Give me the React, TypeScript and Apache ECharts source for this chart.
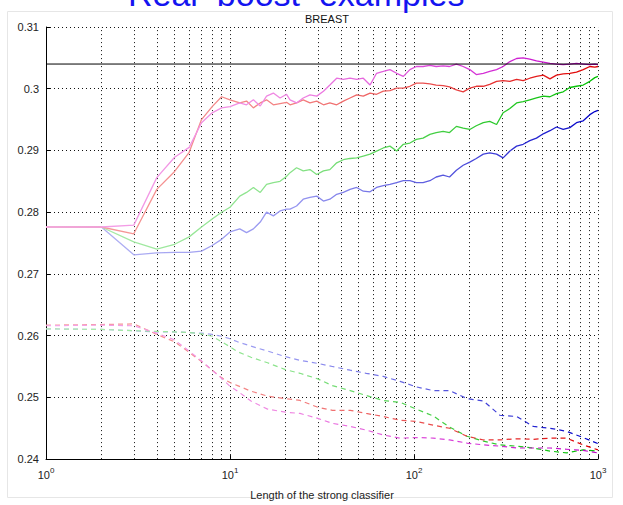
import React, { useEffect, useRef } from "react";
import * as echarts from "echarts";

// x positions (classifier length) for the upper solid curves
const solidX = [1, 2, 3, 4, 5, 6, 7, 8, 9, 10, 11.3, 12.3, 13.4, 14.6, 15.8, 17.2, 18.7, 20.3, 21.2, 23, 25, 27.2, 29.6, 32.2, 34.9, 38, 41.3, 44.9, 48.8, 53, 57.7, 62.6, 68.1, 74, 80.5, 87.5, 95, 103, 112, 122, 132, 144, 156, 170, 185, 201, 218, 238, 258, 281, 305, 332, 361, 392, 426, 463, 504, 548, 595, 647, 703, 764, 831, 903, 961, 1000];

const magentaSolid = [
  0.2776, 0.2776, 0.2779, 0.2856, 0.2889, 0.2905, 0.2945, 0.2961, 0.2969, 0.2971,
  0.2977, 0.2974, 0.2982, 0.2972, 0.2988, 0.2993, 0.2985, 0.2991, 0.2982, 0.2977,
  0.2985, 0.299, 0.2988, 0.2996, 0.3006, 0.3017, 0.3015, 0.3017, 0.3015, 0.3017,
  0.3006, 0.3025, 0.3028, 0.3031, 0.3025, 0.302, 0.3031, 0.3036, 0.3036, 0.3038,
  0.3036, 0.3037, 0.3036, 0.304, 0.3036, 0.3031, 0.3023, 0.3025, 0.3028, 0.3031,
  0.3036, 0.3044, 0.3049, 0.305, 0.3048, 0.3045, 0.3043, 0.3041, 0.304, 0.3039,
  0.304, 0.3041, 0.304, 0.3039, 0.304, 0.3039,
];
const redSolid = [
  0.2776, 0.2776, 0.2765, 0.2837, 0.2866, 0.2897, 0.295, 0.2971, 0.2987, 0.2982,
  0.2977, 0.298, 0.2969, 0.2977, 0.2982, 0.2974, 0.2976, 0.2978, 0.2974, 0.2977,
  0.2982, 0.2977, 0.298, 0.2974, 0.2977, 0.2974, 0.298, 0.2985, 0.299, 0.2988,
  0.2993, 0.2991, 0.2996, 0.2997, 0.3001, 0.3001, 0.3004, 0.3009, 0.3009, 0.3008,
  0.3006, 0.3005, 0.3003, 0.2998, 0.2995, 0.3001, 0.3004, 0.3004, 0.3007, 0.3012,
  0.3013, 0.3012, 0.3015, 0.3013, 0.3017, 0.302, 0.3022, 0.3016, 0.3022, 0.3024,
  0.3025, 0.3027, 0.3031, 0.3036, 0.3035, 0.3036,
];
const greenSolid = [
  0.2776, 0.2776, 0.2752, 0.274, 0.2748, 0.276, 0.2776, 0.2789, 0.28, 0.2808,
  0.2826, 0.2832, 0.284, 0.2832, 0.2845, 0.2848, 0.285, 0.2858, 0.2864, 0.2872,
  0.2867, 0.2869, 0.2861, 0.2867, 0.2869, 0.288, 0.2885, 0.2887, 0.2888, 0.2891,
  0.2894, 0.2899, 0.2904, 0.2907, 0.2899, 0.291, 0.2912, 0.2918, 0.292, 0.2926,
  0.2929, 0.2931, 0.2929, 0.2939, 0.2936, 0.2934, 0.294, 0.2945, 0.2947, 0.2942,
  0.2961, 0.2968, 0.2977, 0.2979, 0.2982, 0.2985, 0.2988, 0.2987, 0.2992, 0.2995,
  0.3002, 0.3004, 0.3006, 0.3012, 0.3018, 0.302,
];
const blueSolid = [
  0.2776, 0.2776, 0.2731, 0.2734, 0.2735, 0.2735, 0.2737, 0.2746, 0.2756, 0.2768,
  0.2773, 0.2767, 0.2773, 0.2784, 0.28, 0.2794, 0.2802, 0.2805, 0.2805, 0.281,
  0.2821, 0.2824, 0.2826, 0.2818, 0.2821, 0.2829, 0.2832, 0.2837, 0.284, 0.2834,
  0.2833, 0.284, 0.2843, 0.2845, 0.2848, 0.2851, 0.2851, 0.2848, 0.2848, 0.2851,
  0.2857, 0.286, 0.2857, 0.2868, 0.2876, 0.2881, 0.2887, 0.2894, 0.2896, 0.2894,
  0.2888, 0.2899, 0.2907, 0.291, 0.2916, 0.292, 0.2927, 0.2932, 0.2938, 0.2934,
  0.2937, 0.2945, 0.2948, 0.2958, 0.2963, 0.2965,
];

// x positions for the lower dashed curves
const dashedX = [1, 2, 3, 4, 5, 6, 7, 8, 9, 10, 11, 13, 16, 20, 24, 30, 36, 45, 55, 68, 84, 103, 127, 156, 194, 239, 293, 361, 445, 548, 675, 830, 1000];

const blueDashed = [
  0.2611, 0.261, 0.2608, 0.2606, 0.2606, 0.2605, 0.2604, 0.2602, 0.2599, 0.2595,
  0.259, 0.2583, 0.2575, 0.2566, 0.256, 0.2555, 0.255, 0.2544, 0.2539, 0.2534,
  0.2526, 0.2517, 0.2511, 0.2511, 0.2498, 0.2494, 0.2471, 0.2469, 0.2453, 0.245,
  0.2445, 0.2435, 0.2425,
];
const greenDashed = [
  0.2611, 0.261, 0.2608, 0.2607, 0.2606, 0.2605, 0.2603, 0.2599, 0.259, 0.2582,
  0.2574, 0.2565, 0.2556, 0.2545, 0.2539, 0.253, 0.2519, 0.2511, 0.2503, 0.2495,
  0.2492, 0.2481, 0.247, 0.2452, 0.2437, 0.2429, 0.2423, 0.2421, 0.2418, 0.2413,
  0.241, 0.2415, 0.2413,
];
const redDashed = [
  0.2617, 0.2618, 0.2619, 0.2602, 0.259, 0.2573, 0.2558, 0.2544, 0.2532, 0.2524,
  0.2519, 0.251, 0.2502, 0.2498, 0.2495, 0.2484, 0.2479, 0.2479, 0.2474, 0.2469,
  0.2463, 0.2461, 0.2455, 0.245, 0.2437, 0.2431, 0.2431, 0.2433, 0.2432, 0.2434,
  0.2434, 0.2423, 0.2415,
];
const magentaDashed = [
  0.2616, 0.2617, 0.2616, 0.2604, 0.2593, 0.2575, 0.2559, 0.2544, 0.2531, 0.2518,
  0.251, 0.2494, 0.2481, 0.2476, 0.2474, 0.2466, 0.2458, 0.2453, 0.2447, 0.2439,
  0.2434, 0.2435, 0.2434, 0.2431, 0.2426, 0.2423, 0.2421, 0.2418, 0.2418, 0.2418,
  0.2416, 0.2414, 0.241,
];

// horizontal reference level
const refX = [1, 1000];
const refY = [0.304, 0.304];

// vertical dotted grid positions on the log axis
const gridX = [2, 3, 4, 5, 6, 7, 8, 9, 10, 20, 30, 40, 50, 60, 70, 80, 90, 100, 200, 300, 400, 500, 600, 700, 800, 900, 1000];

const FONT = "'Liberation Sans', Arial, Helvetica, sans-serif";

const fade = (stops: string[]) =>
  new echarts.graphic.LinearGradient(0, 0, 1, 0, [
    { offset: 0, color: stops[0] },
    { offset: 0.45, color: stops[1] },
    { offset: 0.75, color: stops[2] },
    { offset: 1, color: stops[3] },
  ]);

const pair = (xs: number[], ys: number[]) => xs.map((x, i) => [x, ys[i]]);

export default function App() {
  const ref = useRef<HTMLDivElement>(null);

  useEffect(() => {
    if (!ref.current) return;
    const chart = echarts.init(ref.current, undefined, { renderer: "svg" });

    const magentaC = ["#f5a6e8", "#ef86e2", "#d83ad8", "#c000c8"];
    const redC = ["#f6a0a0", "#f38080", "#e84040", "#e00000"];
    const greenC = ["#b0edb0", "#88e288", "#38cc38", "#00c000"];
    const blueC = ["#b8b8f4", "#9696f0", "#5050dc", "#0000c8"];

    const solid = (name: string, ys: number[], c: string[]) => ({
      name,
      type: "line",
      data: pair(solidX, ys),
      showSymbol: false,
      z: 4,
      lineStyle: { width: 1.3, color: fade(c) },
    });
    const dashed = (name: string, ys: number[], c: string[]) => ({
      name,
      type: "line",
      data: pair(dashedX, ys),
      showSymbol: false,
      z: 3,
      lineStyle: { width: 1.2, type: [5, 4], color: fade(c) },
    });

    chart.setOption({
      animation: false,
      backgroundColor: "#ffffff",
      title: {
        text: "BREAST",
        left: 322,
        top: 8,
        textAlign: "center",
        textStyle: { fontFamily: FONT, fontSize: 11, fontWeight: "normal", color: "#111" },
      },
      graphic: [
        {
          type: "rect",
          silent: true,
          shape: { x: 7.5, y: 11.5, width: 605, height: 486 },
          style: { fill: "none", stroke: "#e6e6e6", lineWidth: 1 },
        },
        {
          type: "text",
          silent: true,
          x: 128,
          y: 11,
          style: {
            text: "Real  boost  examples",
            font: `34px ${FONT}`,
            fill: "#1414f0",
            verticalAlign: "bottom",
          },
        },
      ],
      grid: { left: 46, right: 25, top: 27, bottom: 44 },
      xAxis: {
        type: "log",
        logBase: 10,
        min: 1,
        max: 1000,
        name: "Length of the strong classifier",
        nameLocation: "middle",
        nameGap: 21,
        nameTextStyle: { fontFamily: FONT, fontSize: 11, color: "#222" },
        axisLine: { show: true, lineStyle: { color: "#000", width: 1 } },
        axisTick: { show: true, inside: true, length: 4, lineStyle: { color: "#000" } },
        splitLine: { show: false },
        axisLabel: {
          margin: 7,
          fontFamily: FONT,
          fontSize: 11,
          lineHeight: 18,
          color: "#222",
          formatter: (v: number) => `10{s|${Math.round(Math.log10(v))}}`,
          rich: { s: { fontFamily: FONT, fontSize: 8, lineHeight: 8, verticalAlign: "top", color: "#222" } },
        },
      },
      yAxis: {
        type: "value",
        min: 0.24,
        max: 0.31,
        interval: 0.01,
        axisLine: { show: true, lineStyle: { color: "#000", width: 1 } },
        axisTick: { show: true, inside: true, length: 4, lineStyle: { color: "#000" } },
        splitLine: { show: true, lineStyle: { color: "#111", width: 1, type: [1, 3] } },
        axisLabel: {
          margin: 7,
          fontFamily: FONT,
          fontSize: 11,
          color: "#222",
          formatter: (v: number) => String(+v.toFixed(2)),
        },
      },
      series: [
        {
          name: "reference",
          type: "line",
          data: pair(refX, refY),
          showSymbol: false,
          z: 5,
          lineStyle: { color: "#000", width: 1 },
          markLine: {
            silent: true,
            symbol: ["none", "none"],
            label: { show: false },
            lineStyle: { color: "#111", width: 1, type: [1, 3] },
            data: gridX.map((v) => ({ xAxis: v })),
            z: 1,
          },
        },
        dashed("blue dashed", blueDashed, blueC),
        dashed("green dashed", greenDashed, greenC),
        dashed("red dashed", redDashed, redC),
        dashed("magenta dashed", magentaDashed, magentaC),
        solid("blue", blueSolid, blueC),
        solid("green", greenSolid, greenC),
        solid("red", redSolid, redC),
        solid("magenta", magentaSolid, magentaC),
      ],
    });

    return () => chart.dispose();
  }, []);

  return (
    <div
      ref={ref}
      style={{ position: "absolute", left: 0, top: 0, width: 623, height: 505, background: "#fff" }}
    />
  );
}
